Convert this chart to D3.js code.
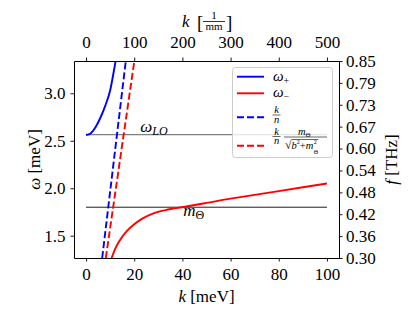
<!DOCTYPE html>
<html><head><meta charset="utf-8">
<script src="https://cdn.jsdelivr.net/npm/d3@7"></script>
<style>
body{margin:0;background:#fff}
svg{display:block}
text{font-family:"Liberation Serif","Times New Roman",serif;fill:#000}
</style>
</head><body>
<svg id="c" width="413" height="321"></svg>
<script>
// ---- data ----
const kTicksBottom = [0, 20, 40, 60, 80, 100];
const kTicksTop = [0, 100, 200, 300, 400, 500];
const omegaTicks = [1.5, 2.0, 2.5, 3.0];
const fTicks = [0.30, 0.3611, 0.4222, 0.4833, 0.5444, 0.6056, 0.6667, 0.7278, 0.7889, 0.85];
const fTickLabels = ["0.30", "0.36", "0.42", "0.48", "0.54", "0.60", "0.67", "0.73", "0.79", "0.85"];

const kPlus = [0, 2, 4, 6, 8, 10, 12, 13.5];
const wPlus = [2.56, 2.58, 2.645, 2.745, 2.87, 3.03, 3.30, 3.52];
const kMinus = [10, 11, 12, 14, 17, 20, 23, 28, 33, 41, 50, 60, 70, 80, 90, 100];
const wMinus = [1.22, 1.29, 1.355, 1.45, 1.55, 1.62, 1.675, 1.735, 1.77, 1.805, 1.845, 1.89, 1.93, 1.97, 2.01, 2.05];
const kLightBlue = [6.7, 16.5];
const wLightBlue = [1.265, 3.34];
const kLightRed = [8.2, 20.05];
const wLightRed = [1.265, 3.34];
const omegaLO = 2.565;
const mTheta = 1.80;
const refK = [0, 100];

// ---- layout ----
const L = 74, R = 339, T = 61, B = 258;
const FS = 17;
const svg = d3.select("#c");
const x = d3.scaleLinear().domain([-5, 105]).range([L, R]);
const xTop = d3.scaleLinear().domain([-25, 525]).range([L, R]);
const y = d3.scaleLinear().domain([1.265, 3.34]).range([B, T]);
const yR = d3.scaleLinear().domain([0.30, 0.85]).range([B, T]);

svg.append("clipPath").attr("id", "clip").append("rect")
  .attr("x", L).attr("y", T).attr("width", R - L).attr("height", B - T);

const plot = svg.append("g").attr("clip-path", "url(#clip)");

// reference lines
plot.append("line").attr("x1", x(refK[0])).attr("x2", x(refK[1]))
  .attr("y1", y(omegaLO)).attr("y2", y(omegaLO))
  .attr("stroke", "#808080").attr("stroke-width", 1.2);
plot.append("line").attr("x1", x(refK[0])).attr("x2", x(refK[1]))
  .attr("y1", y(mTheta)).attr("y2", y(mTheta))
  .attr("stroke", "#000").attr("stroke-width", 0.9);

const line = d3.line().x(d => x(d[0])).y(d => y(d[1])).curve(d3.curveMonotoneX);
const zip = (a, b) => a.map((v, i) => [v, b[i]]);

plot.append("path").attr("d", line(zip(kPlus, wPlus)))
  .attr("fill", "none").attr("stroke", "#0000ff").attr("stroke-width", 1.9);
plot.append("path").attr("d", line(zip(kMinus, wMinus)))
  .attr("fill", "none").attr("stroke", "#ff0000").attr("stroke-width", 1.9);
plot.append("path").attr("d", d3.line().x(d => x(d[0])).y(d => y(d[1]))(zip(kLightBlue, wLightBlue)))
  .attr("fill", "none").attr("stroke", "#0000ff").attr("stroke-width", 1.9).attr("stroke-dasharray", "7,3");
plot.append("path").attr("d", d3.line().x(d => x(d[0])).y(d => y(d[1]))(zip(kLightRed, wLightRed)))
  .attr("fill", "none").attr("stroke", "#ff0000").attr("stroke-width", 1.9).attr("stroke-dasharray", "7,3");

// annotations
const a1 = svg.append("text").attr("x", x(22.5)).attr("y", y(omegaLO) - 3).attr("font-size", 17);
a1.append("tspan").attr("font-style", "italic").text("ω");
a1.append("tspan").attr("font-style", "italic").attr("font-size", 12).attr("dy", 3).text("LO");
const a2 = svg.append("text").attr("x", x(40.3)).attr("y", y(mTheta) + 9).attr("font-size", 17);
a2.append("tspan").attr("font-style", "italic").text("m");
a2.append("tspan").attr("font-size", 12).attr("dy", 3).text("Θ");

// axes
function style(g) {
  g.selectAll("path.domain").attr("stroke", "#000").attr("stroke-width", 1);
  g.selectAll(".tick line").attr("stroke", "#000").attr("stroke-width", 0.9);
  g.selectAll(".tick text").attr("font-size", FS).attr("font-family", "Liberation Serif, serif").attr("fill", "#000");
}
svg.append("g").attr("transform", `translate(0,${B})`)
  .call(d3.axisBottom(x).tickValues(kTicksBottom).tickFormat(d3.format("d")).tickSize(3.5).tickSizeOuter(0).tickPadding(6))
  .call(style);
svg.append("g").attr("transform", `translate(0,${T})`)
  .call(d3.axisTop(xTop).tickValues(kTicksTop).tickFormat(d3.format("d")).tickSize(3.5).tickSizeOuter(0).tickPadding(9.5))
  .call(style);
svg.append("g").attr("transform", `translate(${L},0)`)
  .call(d3.axisLeft(y).tickValues(omegaTicks).tickFormat(d3.format(".1f")).tickSize(3.5).tickSizeOuter(0).tickPadding(5))
  .call(style);
svg.append("g").attr("transform", `translate(${R},0)`)
  .call(d3.axisRight(yR).tickValues(fTicks).tickFormat((d, i) => fTickLabels[i]).tickSize(3.5).tickSizeOuter(0).tickPadding(3.5))
  .call(style);

// axis labels
const bl = svg.append("text").attr("x", (L + R) / 2).attr("y", 302).attr("text-anchor", "middle").attr("font-size", FS);
bl.append("tspan").attr("font-style", "italic").text("k");
bl.append("tspan").text(" [meV]");

const ll = svg.append("text").attr("transform", `translate(40,${(T + B) / 2}) rotate(-90)`).attr("text-anchor", "middle").attr("font-size", FS);
ll.append("tspan").attr("font-style", "italic").text("ω");
ll.append("tspan").text(" [meV]");

const rl = svg.append("text").attr("transform", `translate(397,${(T + B) / 2}) rotate(-90)`).attr("text-anchor", "middle").attr("font-size", FS);
rl.append("tspan").attr("font-style", "italic").text("f");
rl.append("tspan").text(" [THz]");

// top label with fraction
svg.append("text").attr("x", 182).attr("y", 27).attr("font-size", FS).attr("font-style", "italic").text("k");
svg.append("text").attr("x", 197).attr("y", 29).attr("font-size", 19).text("[");
svg.append("text").attr("x", 214).attr("y", 18.5).attr("font-size", 11).attr("text-anchor", "middle").text("1");
svg.append("line").attr("x1", 203).attr("x2", 225).attr("y1", 21.5).attr("y2", 21.5).attr("stroke", "#000").attr("stroke-width", 0.8);
svg.append("text").attr("x", 214).attr("y", 30).attr("font-size", 11).attr("text-anchor", "middle").text("mm");
svg.append("text").attr("x", 226).attr("y", 29).attr("font-size", 19).text("]");

// legend
const lg = svg.append("g");
lg.append("rect").attr("x", 232.5).attr("y", 67.5).attr("width", 100).attr("height", 90).attr("rx", 3)
  .attr("fill", "#fff").attr("fill-opacity", 0.8).attr("stroke", "#cccccc").attr("stroke-width", 1);
const entries = [
  { c: "#0000ff", dash: null, y: 76.7 },
  { c: "#ff0000", dash: null, y: 93.3 },
  { c: "#0000ff", dash: "7,3", y: 117.3 },
  { c: "#ff0000", dash: "7,3", y: 145.7 }
];
entries.forEach(e => {
  const l = lg.append("line").attr("x1", 237).attr("x2", 264).attr("y1", e.y).attr("y2", e.y)
    .attr("stroke", e.c).attr("stroke-width", 1.9);
  if (e.dash) l.attr("stroke-dasharray", e.dash);
});
const t1 = lg.append("text").attr("x", 273).attr("y", 80.5).attr("font-size", 15);
t1.append("tspan").attr("font-style", "italic").text("ω");
t1.append("tspan").attr("font-size", 10).attr("dy", 3).text("+");
const t2 = lg.append("text").attr("x", 273).attr("y", 97).attr("font-size", 15);
t2.append("tspan").attr("font-style", "italic").text("ω");
t2.append("tspan").attr("font-size", 10).attr("dy", 3).text("−");
function frac(cx, yBar, top, bottom, w) {
  lg.append("text").attr("x", cx).attr("y", yBar - 2).attr("text-anchor", "middle").attr("font-size", 10.5).attr("font-style", "italic").text(top);
  lg.append("line").attr("x1", cx - w / 2).attr("x2", cx + w / 2).attr("y1", yBar).attr("y2", yBar).attr("stroke", "#000").attr("stroke-width", 0.6);
  lg.append("text").attr("x", cx).attr("y", yBar + 7.5).attr("text-anchor", "middle").attr("font-size", 10.5).attr("font-style", "italic").text(bottom);
}
frac(276.5, 115, "k", "n", 8);
frac(276.5, 136.5, "k", "n", 8);
// m_Θ / sqrt(b^2 + m_Θ^2)
const nm = lg.append("text").attr("x", 298).attr("y", 134.5).attr("font-size", 10.5);
nm.append("tspan").attr("font-style", "italic").text("m");
nm.append("tspan").attr("font-size", 7).attr("dy", 2).text("Θ");
lg.append("line").attr("x1", 284).attr("x2", 327).attr("y1", 137).attr("y2", 137).attr("stroke", "#000").attr("stroke-width", 0.6);
const dx0 = 285;
const dn = lg.append("text").attr("x", dx0).attr("y", 149).attr("font-size", 10.5);
dn.append("tspan").attr("font-size", 12).text("√");
dn.append("tspan").attr("font-style", "italic").text("b");
dn.append("tspan").attr("font-size", 6).attr("dy", -5).text("2");
dn.append("tspan").attr("dy", 5).text("+");
dn.append("tspan").attr("font-style", "italic").text("m");
const mEnd = dx0 + dn.node().getComputedTextLength();
lg.append("text").attr("x", mEnd + 0.5).attr("y", 144).attr("font-size", 6).text("2");
lg.append("text").attr("x", mEnd + 0.5).attr("y", 154).attr("font-size", 6).text("Θ");
lg.append("line").attr("x1", dx0 + 7).attr("x2", mEnd + 5).attr("y1", 139.5).attr("y2", 139.5).attr("stroke", "#000").attr("stroke-width", 0.6);
</script>
</body></html>
